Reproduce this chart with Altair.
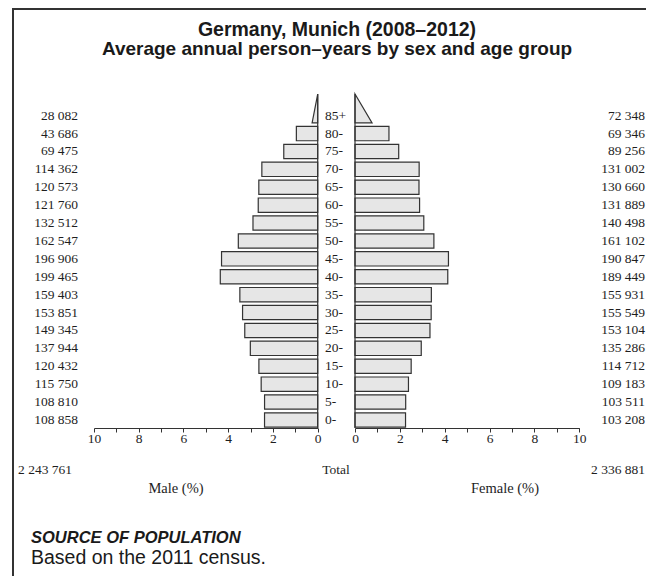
import altair as alt
import pandas as pd

# ---- data ----
ages = ["0-", "5-", "10-", "15-", "20-", "25-", "30-", "35-", "40-", "45-",
        "50-", "55-", "60-", "65-", "70-", "75-", "80-", "85+"]
male = [108858, 108810, 115750, 120432, 137944, 149345, 153851, 159403, 199465,
        196906, 162547, 132512, 121760, 120573, 114362, 69475, 43686, 28082]
female = [103208, 103511, 109183, 114712, 135286, 153104, 155549, 155931, 189449,
          190847, 161102, 140498, 131889, 130660, 131002, 89256, 69346, 72348]
# base width (in %) of the open-ended 85+ triangles
open_base_male = 0.25
open_base_female = 0.76
tick_values = list(range(0, 11))

title1 = "Germany, Munich (2008–2012)"
title2 = "Average annual person–years by sex and age group"


def fmt(n):
    return f"{n:,}".replace(",", " ")


grand = sum(male) + sum(female)
df = pd.DataFrame({"row": list(range(len(ages))), "age": ages, "male": male, "female": female})
df["male_pct"] = df["male"] / grand * 100
df["female_pct"] = df["female"] / grand * 100
df["male_lbl"] = [fmt(v) for v in male]
df["female_lbl"] = [fmt(v) for v in female]
df["lo"] = df["row"] - 0.4
df["hi"] = df["row"] + 0.4
df["zero"] = 0.0
bars = df[df["age"] != "85+"]

top_row = len(ages) - 1
tri_bottom = top_row - 0.4
tri_top = top_row + 1.21
tri_m = pd.DataFrame({"y": [tri_bottom, tri_top], "x0": [0.0, 0.0], "x1": [open_base_male, 0.0]})
tri_f = pd.DataFrame({"y": [tri_bottom, tri_top], "x0": [0.0, 0.0], "x1": [open_base_female, 0.0]})
rule_df = pd.DataFrame({"zero": [0.0], "y0": [-0.45], "y1": [tri_top]})

YS = alt.Scale(domain=[-0.45, 18.3], range=[420, 84.4], nice=False, zero=False)
XL = alt.Scale(domain=[0, 10], range=[309.7, 86], nice=False)
XR = alt.Scale(domain=[0, 10], range=[347, 571.3], nice=False)

SERIF = "Liberation Serif"
SANS = "Liberation Sans"
DARK = "#333333"
TXT = "#1e1e1e"
INK = "#1a1a1a"
FILL = "#e6e6e6"


def axis():
    return alt.Axis(orient="bottom", values=tick_values,
                    labelExpr="datum.value % 2 == 0 ? datum.label : ''",
                    tickSize=4, tickColor=DARK, domainColor=DARK, domainWidth=1.2,
                    labelFont=SERIF, labelFontSize=13.5, labelColor=TXT,
                    labelPadding=-1, labelFlush=False, labelOverlap=False,
                    grid=False, title=None)


yq = lambda f: alt.Y(f, type="quantitative", scale=YS, axis=None)

male_bars = alt.Chart(bars).mark_rect(fill=FILL, stroke=DARK, strokeWidth=1.2).encode(
    x=alt.X("male_pct:Q", scale=XL, axis=axis()), x2="zero:Q",
    y=yq("lo"), y2="hi:Q")
female_bars = alt.Chart(bars).mark_rect(fill=FILL, stroke=DARK, strokeWidth=1.2).encode(
    x=alt.X("female_pct:Q", scale=XR, axis=axis()), x2="zero:Q",
    y=yq("lo"), y2="hi:Q")

male_tri = alt.Chart(tri_m).mark_area(orient="horizontal", fill=FILL, stroke=DARK, strokeWidth=1.2).encode(
    x=alt.X("x1:Q", scale=XL, axis=None), x2="x0:Q", y=yq("y"))
female_tri = alt.Chart(tri_f).mark_area(orient="horizontal", fill=FILL, stroke=DARK, strokeWidth=1.2).encode(
    x=alt.X("x1:Q", scale=XR, axis=None), x2="x0:Q", y=yq("y"))

male_rule = alt.Chart(rule_df).mark_rule(color=DARK, strokeWidth=1.2).encode(
    x=alt.X("zero:Q", scale=XL, axis=None), y=yq("y0"), y2="y1:Q")
female_rule = alt.Chart(rule_df).mark_rule(color=DARK, strokeWidth=1.2).encode(
    x=alt.X("zero:Q", scale=XR, axis=None), y=yq("y0"), y2="y1:Q")

txt = dict(font=SERIF, fontSize=13.5, color=TXT, baseline="middle")
male_lbls = alt.Chart(df).mark_text(align="right", **txt).encode(
    x=alt.value(70), y=yq("row"), text="male_lbl:N")
female_lbls = alt.Chart(df).mark_text(align="right", **txt).encode(
    x=alt.value(637), y=yq("row"), text="female_lbl:N")
age_lbls = alt.Chart(df).mark_text(align="left", **txt).encode(
    x=alt.value(317), y=yq("row"), text="age:N")


def note(text, x, y, align="center", **kw):
    style = dict(txt)
    style.update(kw)
    return alt.Chart(pd.DataFrame({"t": [text]})).mark_text(align=align, **style).encode(
        x=alt.value(x), y=alt.value(y), text="t:N")


notes = [
    note(fmt(sum(male)), 10, 462, "left"),
    note("Total", 328, 462),
    note(fmt(sum(female)), 637, 462, "right"),
    note("Male (%)", 168, 481, fontSize=14.5),
    note("Female (%)", 497, 481, fontSize=14.5),
    note(title1, 329, 22, font=SANS, fontSize=19.5, fontWeight="bold", color=INK),
    note(title2, 329, 41, font=SANS, fontSize=19, fontWeight="bold", color=INK),
    note("SOURCE OF POPULATION", 23, 530, "left", font=SANS, fontSize=16.5,
         fontWeight="bold", fontStyle="italic", color=INK),
    note("Based on the 2011 census.", 23, 550, "left", font=SANS, fontSize=19.5, color=INK),
]

frame_df = pd.DataFrame({"k": [0]})
frame_left = alt.Chart(frame_df).mark_rule(color=DARK, strokeWidth=2).encode(
    x=alt.value(5), y=alt.value(0), y2=alt.value(568))
frame_top = alt.Chart(frame_df).mark_rule(color=DARK, strokeWidth=2).encode(
    x=alt.value(5), x2=alt.value(638), y=alt.value(1))

chart = alt.layer(
    male_bars, male_tri, male_rule,
    female_bars, female_tri, female_rule,
    male_lbls, female_lbls, age_lbls,
    *notes, frame_left, frame_top,
).resolve_scale(x="independent").properties(
    width=638, height=420,
    autosize=alt.AutoSizeParams(type="none"),
    padding={"left": 0, "top": 0, "right": 0, "bottom": 148},
    background="white",
).configure_view(stroke=None)

chart.save("out.html", embed_options={"renderer": "svg", "actions": False})
